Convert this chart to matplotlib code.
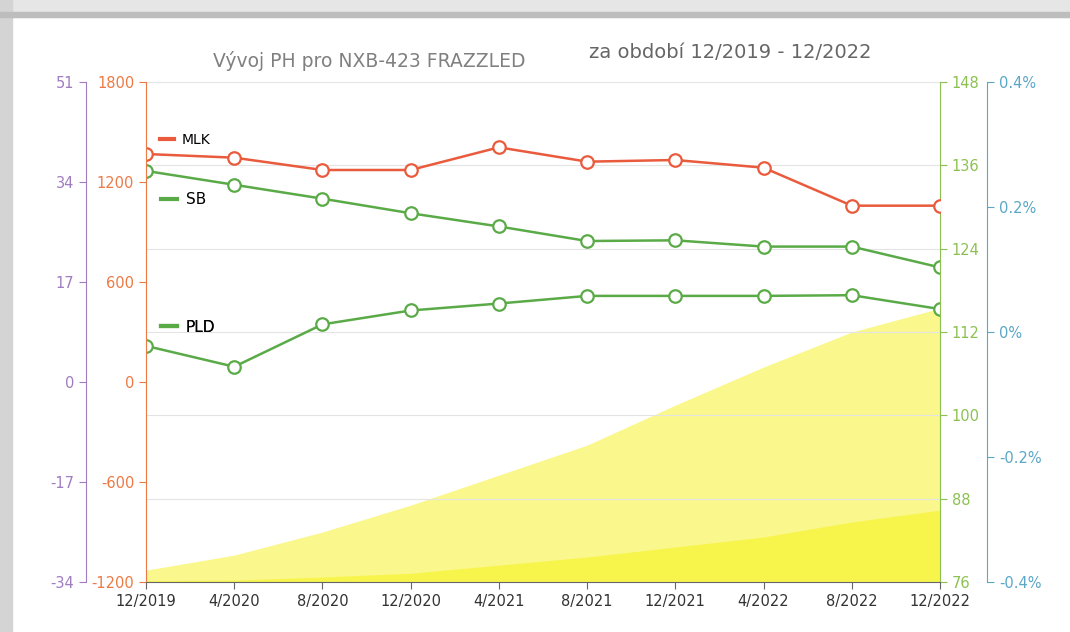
import matplotlib.pyplot as plt
from matplotlib.patches import Rectangle
from matplotlib.lines import Line2D
from matplotlib.ticker import FuncFormatter

plt.rcParams['axes.unicode_minus'] = False

# popisky osy x
obdobi = ['12/2019', '4/2020', '8/2020', '12/2020', '4/2021',
          '8/2021', '12/2021', '4/2022', '8/2022', '12/2022']

# hodnoty
mlk = [1368, 1346, 1272, 1272, 1408, 1322, 1332, 1286, 1058, 1058]
sb = [135.2, 133.2, 131.2, 129.1, 127.2, 125.1, 125.2, 124.3, 124.3, 121.3]
pld = [110.0, 107.0, 113.1, 115.1, 116.1, 117.2, 117.2, 117.2, 117.3, 115.3]

# plochy v procentech (prava modra osa)
plocha_horni = [-0.381, -0.357, -0.32, -0.277, -0.229, -0.181, -0.117, -0.056, 0.0, 0.038]
plocha_dolni = [-0.398, -0.397, -0.392, -0.386, -0.373, -0.36, -0.344, -0.328, -0.304, -0.285]

# tick hodnoty os
ticky_oranz = [-1200, -600, 0, 600, 1200, 1800]
ticky_fial = [-34, -17, 0, 17, 34, 51]
ticky_zel = [76, 88, 100, 112, 124, 136, 148]
ticky_modr = [-0.4, -0.2, 0.0, 0.2, 0.4]

c_oranz = '#ec7a45'
c_fial = '#a07cc0'
c_zel = '#8cc152'
c_modr = '#5aa7c6'
c_mlk = '#ea5a3c'
c_linie = '#5aab48'
c_text = '#333333'

fig = plt.figure(figsize=(10.7, 6.32), dpi=100)
fig.patch.set_facecolor('white')

# sedy ramecek nahore a vlevo (jako na skenu)
fig.add_artist(Rectangle((0, 1 - 17 / 632), 1, 17 / 632, transform=fig.transFigure,
                         color='#e6e6e6', zorder=-5))
fig.add_artist(Rectangle((0, 1 - 17 / 632), 1, 5 / 632, transform=fig.transFigure,
                         color='#bdbdbd', zorder=-4))
fig.add_artist(Rectangle((0, 0), 12 / 1070, 1, transform=fig.transFigure,
                         color='#d4d4d4', zorder=-5))

x = list(range(len(obdobi)))

ax = fig.add_axes([146 / 1070, 50 / 632, 794 / 1070, 500 / 632])
ax_b = ax.twinx()
ax_p = ax.twinx()
ax_g = ax.twinx()

ax.patch.set_visible(False)
ax_b.set_zorder(0)
ax_p.set_zorder(1)
ax_g.set_zorder(2)
ax.set_zorder(3)

# plochy
ax_b.fill_between(x, plocha_horni, -0.4, color='#f5f000', alpha=0.45, linewidth=0)
ax_b.fill_between(x, plocha_dolni, -0.4, color='#f5f000', alpha=0.45, linewidth=0)
ax_b.set_ylim(-0.4, 0.4)
ax_b.set_yticks(ticky_modr)
ax_b.yaxis.set_major_formatter(FuncFormatter(lambda v, p: '{:g}%'.format(round(v, 2))))
for s in ['left', 'top', 'bottom']:
    ax_b.spines[s].set_visible(False)
ax_b.spines['right'].set_position(('outward', 34))
ax_b.spines['right'].set_color(c_modr)
ax_b.tick_params(axis='y', colors=c_modr, labelsize=10.5, length=5)

# fialova osa vlevo
ax_p.set_ylim(-34, 51)
ax_p.set_yticks(ticky_fial)
ax_p.yaxis.tick_left()
ax_p.yaxis.set_label_position('left')
for s in ['right', 'top', 'bottom']:
    ax_p.spines[s].set_visible(False)
ax_p.spines['left'].set_visible(True)
ax_p.spines['left'].set_position(('outward', 43))
ax_p.spines['left'].set_color(c_fial)
ax_p.tick_params(axis='y', colors=c_fial, labelsize=10.5, length=5)

# zelena osa (SB, PLD)
ax_g.set_axisbelow(True)
ax_g.grid(axis='y', color='#e4e4e4', linewidth=0.8)
ax_g.plot(x, sb, color=c_linie, linewidth=1.8, marker='o', markersize=9,
          markerfacecolor='white', markeredgewidth=1.6)
ax_g.plot(x, pld, color=c_linie, linewidth=1.8, marker='o', markersize=9,
          markerfacecolor='white', markeredgewidth=1.6)
ax_g.set_ylim(76, 148)
ax_g.set_yticks(ticky_zel)
for s in ['left', 'top', 'bottom']:
    ax_g.spines[s].set_visible(False)
ax_g.spines['right'].set_color(c_zel)
ax_g.tick_params(axis='y', colors=c_zel, labelsize=10.5, length=5)

# oranzova osa (MLK)
ax.plot(x, mlk, color=c_mlk, linewidth=1.8, marker='o', markersize=9,
        markerfacecolor='white', markeredgewidth=1.6)
ax.set_ylim(-1200, 1800)
ax.set_yticks(ticky_oranz)
ax.set_xlim(0, 9)
ax.set_xticks(x)
ax.set_xticklabels(obdobi)
ax.spines['top'].set_visible(False)
ax.spines['right'].set_visible(False)
ax.spines['left'].set_color(c_oranz)
ax.spines['bottom'].set_color('#666666')
ax.tick_params(axis='y', colors=c_oranz, labelsize=10.5, length=5)
ax.tick_params(axis='x', colors='#666666', labelcolor=c_text, labelsize=10.5, length=5)

# legendy u jednotlivych car
legendy = [('MLK', c_mlk, 0.884, 10), ('SB', c_linie, 0.764, 11), ('PLD', c_linie, 0.51, 11)]
for nazev, barva, ypos, fs in legendy:
    h = Line2D([], [], color=barva, linewidth=3)
    lg = ax.legend([h], [nazev], loc='center left', bbox_to_anchor=(0.0, ypos),
                   frameon=False, handlelength=1.0, handletextpad=0.6,
                   fontsize=fs, borderaxespad=0.6)
    ax.add_artist(lg)

# titulek
fig.text(369 / 1070, 1 - 61 / 632, 'Vývoj PH pro NXB-423 FRAZZLED', color='#808080',
         fontsize=13.5, ha='center', va='center')
fig.text(730 / 1070, 1 - 53 / 632, 'za období 12/2019 - 12/2022', color='#666666',
         fontsize=14, ha='center', va='center')

plt.savefig('out.png', dpi=100)
